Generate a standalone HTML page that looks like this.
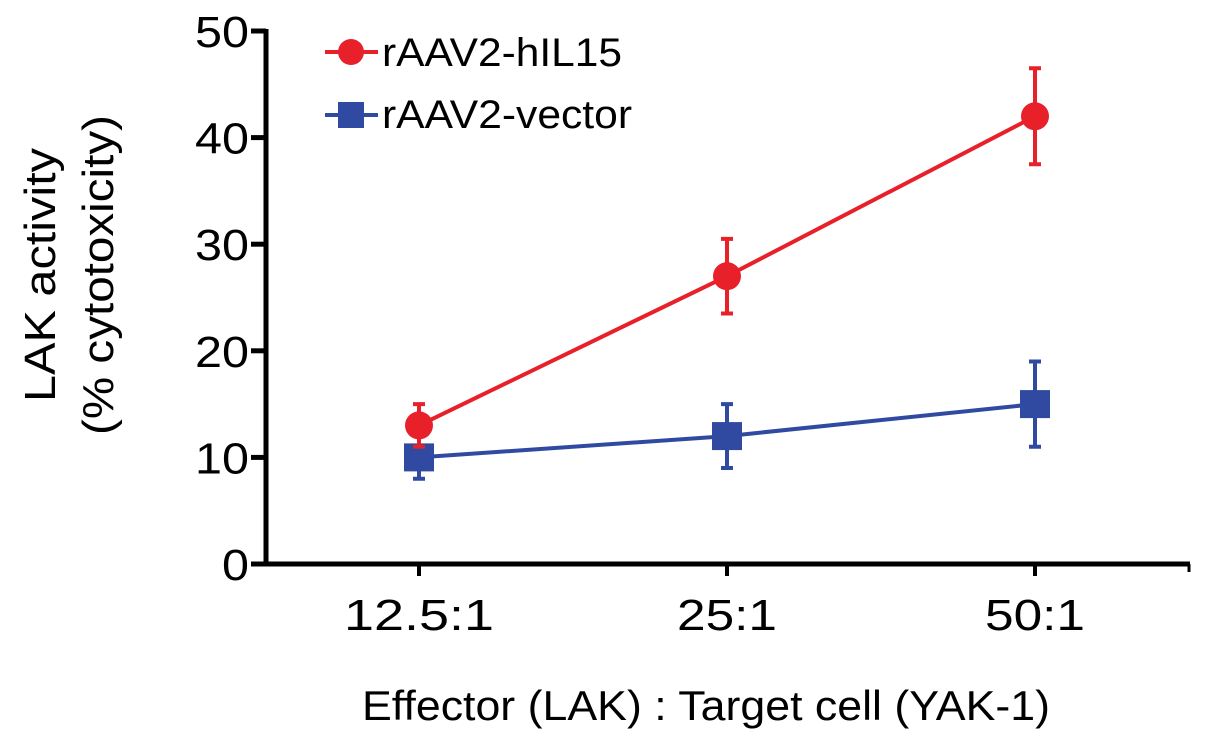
<!DOCTYPE html>
<html><head><meta charset="utf-8"><style>
body{margin:0;background:#fff}
svg{display:block;font-family:"Liberation Sans",sans-serif}
</style></head><body>
<svg id="chart" width="1205" height="743">
<g id="axes"></g>
<g id="marks"></g>
<text x="362" y="720" font-size="42" textLength="688" lengthAdjust="spacingAndGlyphs" fill="#000">Effector (LAK) : Target  cell (YAK-1)</text>
<text transform="translate(55,402) rotate(-90)" font-size="44" textLength="254" lengthAdjust="spacingAndGlyphs" fill="#000">LAK activity</text>
<text transform="translate(113,435) rotate(-90)" font-size="44" textLength="320" lengthAdjust="spacingAndGlyphs" fill="#000">(% cytotoxicity)</text>
<g>
<line x1="325" y1="52" x2="378" y2="52" stroke="#e8202a" stroke-width="4"/>
<circle cx="351" cy="52" r="13" fill="#e8202a"/>
<text x="382" y="66" font-size="40" textLength="240" lengthAdjust="spacingAndGlyphs" fill="#000">rAAV2-hIL15</text>
<line x1="325" y1="115" x2="378" y2="115" stroke="#2f4aa0" stroke-width="4"/>
<rect x="338" y="102" width="26" height="26" fill="#2f4aa0"/>
<text x="382" y="128" font-size="40" textLength="250" lengthAdjust="spacingAndGlyphs" fill="#000">rAAV2-vector</text>
</g>
</svg>
<script>
const categories=["12.5:1","25:1","50:1"];
const redValues=[13,27,42];
const redLow=[11,23.5,37.5];
const redHigh=[15,30.5,46.5];
const blueValues=[10,12,15];
const blueLow=[8,9,11];
const blueHigh=[12,15,19];
const yTicks=[0,10,20,30,40,50];
const NS="http://www.w3.org/2000/svg";
const y0=564,yTop=31,yMax=50;
function yPos(v){return y0-(y0-yTop)*v/yMax;}
function xPos(i){return 419+i*308;}
function mk(tag,attrs,parent){const e=document.createElementNS(NS,tag);for(const k in attrs)e.setAttribute(k,attrs[k]);parent.appendChild(e);return e;}
const axes=document.getElementById('axes'),marks=document.getElementById('marks');
let a=mk('line',{x1:266,y1:yTop-2,x2:266,y2:y0+2,stroke:'#000','stroke-width':5},axes);


a=mk('line',{x1:251,y1:y0,x2:1190,y2:y0,stroke:'#000','stroke-width':5},axes);


mk('line',{x1:1189,y1:y0,x2:1189,y2:y0+8,stroke:'#000','stroke-width':3},axes);
yTicks.forEach(v=>{
 const t=mk('line',{x1:251,y1:yPos(v),x2:266,y2:yPos(v),stroke:'#000','stroke-width':5},axes);
 
 
 const w=String(v).length>1?54:27;
 const l=mk('text',{x:249-w,y:yPos(v)+16,'font-size':44,textLength:w,lengthAdjust:'spacingAndGlyphs'},axes);l.textContent=v;
 
 
});
categories.forEach((c,i)=>{
 const t=mk('line',{x1:xPos(i),y1:y0,x2:xPos(i),y2:y0+12,stroke:'#000','stroke-width':4},axes);
 
 
 const w=c.length*25;
 const l=mk('text',{x:xPos(i)-w/2,y:630,'font-size':44,textLength:w,lengthAdjust:'spacingAndGlyphs'},axes);l.textContent=c;
 
 
});
function series(vals,lo,hi,color,shape,name){
 const pts=vals.map((v,i)=>xPos(i)+','+yPos(v)).join(' ');
 const p=mk('polyline',{points:pts,fill:'none',stroke:color,'stroke-width':4},marks);
 
 
 vals.forEach((v,i)=>{
  const x=xPos(i);
  const e=mk('path',{d:`M${x},${yPos(lo[i])}V${yPos(hi[i])}M${x-6},${yPos(lo[i])}H${x+6}M${x-6},${yPos(hi[i])}H${x+6}`,stroke:color,'stroke-width':4,fill:'none'},marks);
  
  
  let m;
  if(shape==='circle')m=mk('circle',{cx:x,cy:yPos(v),r:14,fill:color},marks);
  else m=mk('rect',{x:x-15,y:yPos(v)-14,width:30,height:28,fill:color},marks);
  
  
 });
}
series(blueValues,blueLow,blueHigh,'#2f4aa0','square','vector');
series(redValues,redLow,redHigh,'#e8202a','circle','hil15');
</script>
</body></html>
